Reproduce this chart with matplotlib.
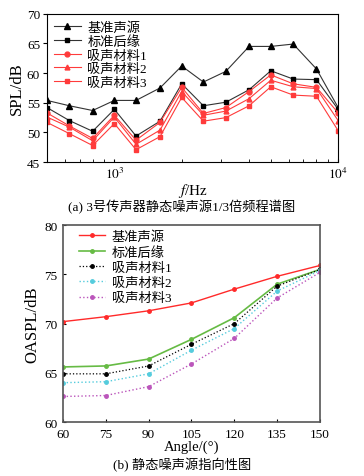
import matplotlib
matplotlib.use('Agg')
import matplotlib.pyplot as plt
from matplotlib.ticker import FixedLocator, NullFormatter

plt.rcParams['font.family'] = ['Liberation Serif', 'Noto Sans CJK SC']
plt.rcParams['font.size'] = 9.5
plt.rcParams['mathtext.fontset'] = 'stix'

# (a) 1/3 octave spectrum
freq = [500, 630, 800, 1000, 1250, 1600, 2000, 2500, 3150, 4000, 5000, 6300, 8000, 10000]
ref_src = [55.4, 54.5, 53.7, 55.4, 55.4, 57.5, 61.2, 58.5, 60.3, 64.5, 64.5, 64.9, 60.7, 54.2]
std_te = [54.2, 52.0, 50.2, 53.9, 49.4, 51.9, 58.2, 54.5, 55.1, 57.2, 60.4, 59.0, 58.9, 53.9]
mat1 = [53.3, 51.1, 49.0, 52.9, 48.7, 51.7, 57.6, 53.2, 54.2, 56.9, 59.7, 58.2, 57.6, 53.3]
mat2 = [52.6, 50.9, 48.6, 52.6, 48.0, 50.4, 56.9, 52.9, 53.6, 55.7, 58.8, 57.7, 57.4, 52.0]
mat3 = [51.7, 49.8, 47.8, 51.5, 47.1, 49.3, 55.9, 51.9, 52.5, 54.5, 57.7, 56.3, 56.1, 50.3]

# (b) directivity
angle = [60, 75, 90, 105, 120, 135, 150]
oa_ref = [70.2, 70.7, 71.3, 72.1, 73.5, 74.8, 75.9]
oa_std = [65.6, 65.7, 66.4, 68.4, 70.6, 74.0, 75.5]
oa_m1 = [64.9, 64.9, 65.7, 67.9, 70.0, 73.8, 75.5]
oa_m2 = [64.0, 64.1, 64.9, 67.3, 69.5, 73.3, 75.4]
oa_m3 = [62.6, 62.7, 63.6, 65.9, 68.5, 72.6, 75.2]

names = ['基准声源', '标准后缘', '吸声材料1', '吸声材料2', '吸声材料3']

fig = plt.figure(figsize=(3.64, 4.77), dpi=100)

red = '#ff3b3b'
ax1 = fig.add_axes([0.129, 0.658, 0.80, 0.311])
ax1.plot(freq, ref_src, '-', color='#333333', lw=0.8, marker='^', ms=4, mfc='black', mec='black', label=names[0])
ax1.plot(freq, std_te, '-', color='#333333', lw=0.8, marker='s', ms=3.5, mfc='black', mec='black', label=names[1])
ax1.plot(freq, mat1, '-', color=red, lw=0.8, marker='o', ms=3.5, label=names[2])
ax1.plot(freq, mat2, '-', color=red, lw=0.8, marker='^', ms=3.5, label=names[3])
ax1.plot(freq, mat3, '-', color=red, lw=0.8, marker='s', ms=3.5, label=names[4])
ax1.set_xscale('log')
ax1.set_xlim(500, 10000)
ax1.set_ylim(45, 70)
ax1.set_yticks([45, 50, 55, 60, 65, 70])
ax1.xaxis.set_major_locator(FixedLocator([1000, 10000]))
ax1.set_xticklabels(['$10^3$', '$10^4$'])
ax1.xaxis.set_minor_locator(FixedLocator([600, 700, 800, 900, 2000, 3000, 4000, 5000, 6000, 7000, 8000, 9000]))
ax1.xaxis.set_minor_formatter(NullFormatter())
ax1.tick_params(axis='x', which='both', direction='in', length=2.5, pad=3)
ax1.tick_params(axis='y', direction='out', length=3, pad=2)
ax1.set_ylabel('SPL/dB', fontsize=12, labelpad=1)
ax1.set_xlabel('$f$/Hz', fontsize=11, labelpad=0)
ax1.legend(loc='upper left', frameon=False, fontsize=9.5, labelspacing=0.1,
           handlelength=2.0, handletextpad=0.5, borderaxespad=0.15)
fig.text(0.5, 0.566, '(a) 3号传声器静态噪声源1/3倍频程谱图', ha='center', va='center', fontsize=9.5)

ax2 = fig.add_axes([0.173, 0.113, 0.706, 0.413])
ax2.plot(angle, oa_ref, '-', color='#ff2a2a', lw=1.0, marker='o', ms=2.5, label=names[0])
ax2.plot(angle, oa_std, '-', color='#66bb44', lw=1.2, marker='o', ms=2.5, label=names[1])
ax2.plot(angle, oa_m1, ':', color='black', lw=0.9, marker='o', ms=2.5, label=names[2])
ax2.plot(angle, oa_m2, ':', color='#55ccdd', lw=1.0, marker='o', ms=2.5, label=names[3])
ax2.plot(angle, oa_m3, ':', color='#bb55bb', lw=1.0, marker='o', ms=2.5, label=names[4])
ax2.set_xlim(60, 150)
ax2.set_ylim(60, 80)
ax2.set_xticks(angle)
ax2.set_yticks([60, 65, 70, 75, 80])
for s in ax2.spines.values():
    s.set_color('#555555')
    s.set_linewidth(1.2)
ax2.tick_params(axis='x', direction='in', length=2, pad=4)
ax2.tick_params(axis='y', direction='in', length=2, pad=4)
ax2.set_ylabel('OASPL/dB', fontsize=12, labelpad=3)
ax2.set_xlabel('Angle/(°)', fontsize=10.5, labelpad=0)
ax2.legend(loc='upper left', frameon=False, fontsize=9.5, labelspacing=0.22,
           handlelength=2.0, handletextpad=0.5, borderaxespad=0.0,
           bbox_to_anchor=(0.04, 1.0))
fig.text(0.5, 0.025, '(b) 静态噪声源指向性图', ha='center', va='center', fontsize=9.5)

fig.savefig('out.png', dpi=100)
